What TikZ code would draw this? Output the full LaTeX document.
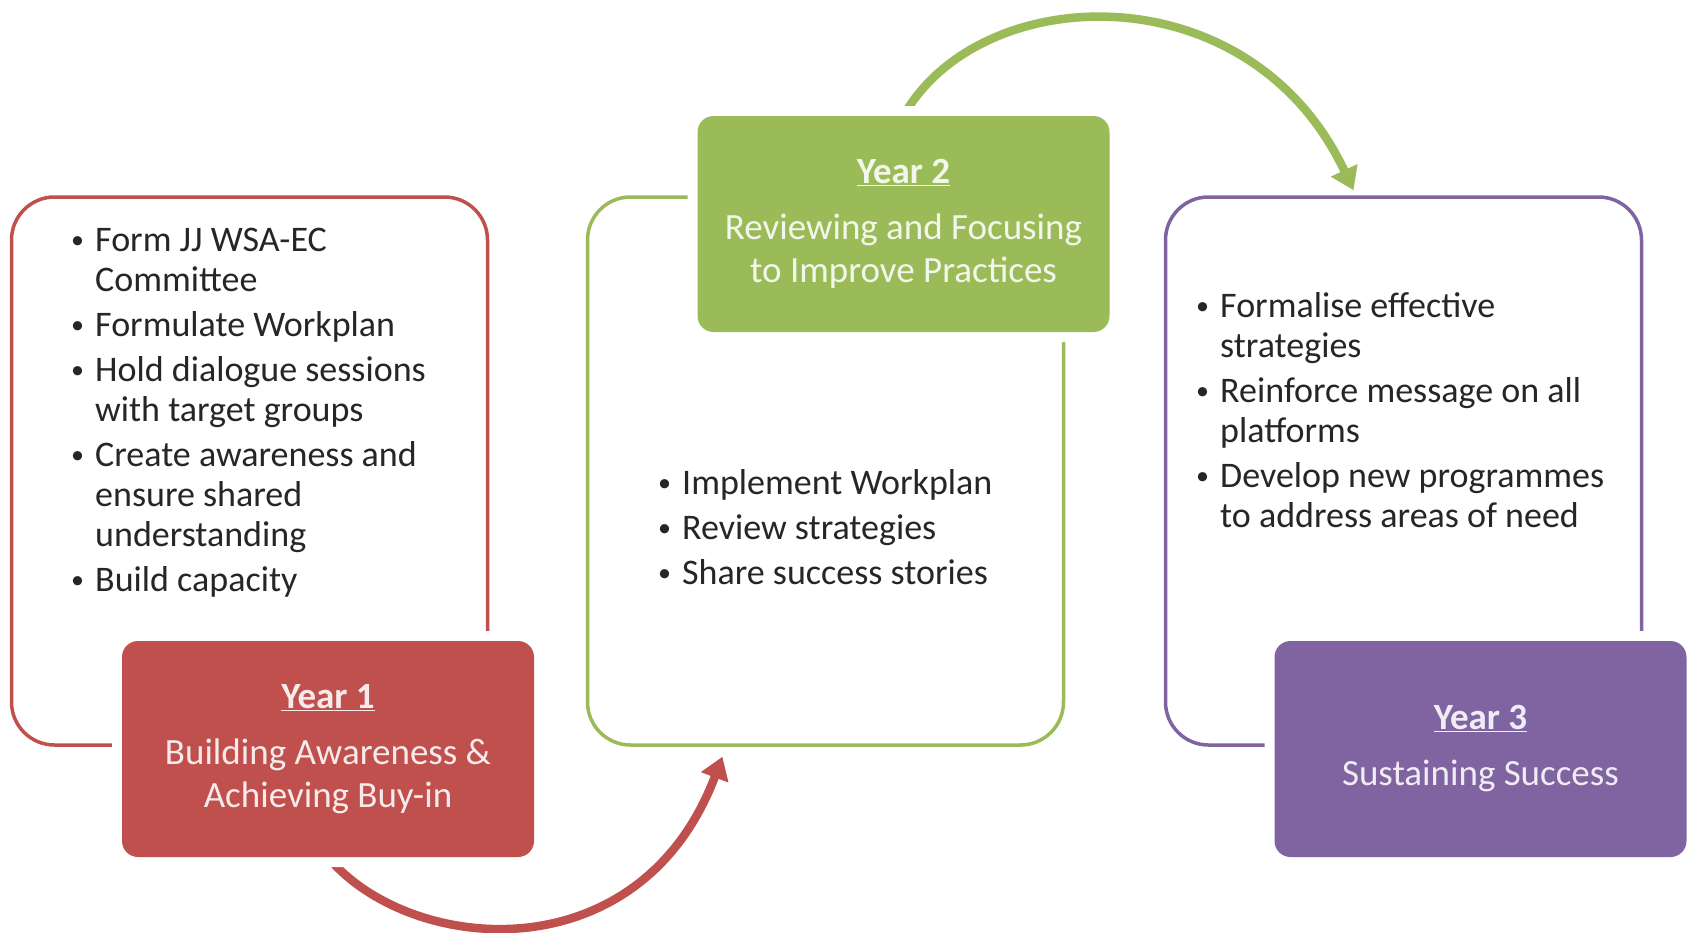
\documentclass[tikz,border=0pt]{standalone}
\usepackage{fontspec}
\setmainfont{Carlito}
\usetikzlibrary{arrows.meta,calc,backgrounds}
\definecolor{cred}{HTML}{C0504D}
\definecolor{cgreen}{HTML}{9BBB59}
\definecolor{cpurple}{HTML}{8064A2}
\definecolor{ctext}{HTML}{262626}
\newcommand{\bul}{\makebox[24pt][l]{\raisebox{2.5pt}{\fontsize{26}{26}\selectfont\textbullet}}}
\newcommand{\cont}{\hspace*{24pt}}
\begin{document}
\begin{tikzpicture}[x=1pt,y=-1pt,
  outline/.style={draw=#1, line width=3.5pt, rounded corners=43pt, minimum width=476pt, minimum height=548pt, inner sep=0pt},
  yearbox/.style={fill=#1, rounded corners=16pt, minimum width=412pt, minimum height=216pt,
    preaction={draw=white, line width=20pt}, text=white!88!#1, align=center,
    font=\fontsize{37}{43}\selectfont, inner sep=0pt},
  list/.style={anchor=base west, inner sep=0pt, text=ctext, font=\fontsize{36}{40}\selectfont},
  flow/.style={draw=#1, line width=8.5pt, -{Triangle[length=22pt,width=28pt]}},
]
\useasboundingbox (0,0) rectangle (1692,932);

% outline boxes
\node[outline=cred]    (r-out) at (249.5,471) {};
\node[outline=cgreen]  (g-out) at (825.5,471) {};
\node[outline=cpurple] (p-out) at (1403.5,471) {};

% year boxes
\node[yearbox=cred] (r-box) at (328,749)
  {\underline{\textbf{Year 1}}\\[13pt]Building Awareness \&\\Achieving Buy-in};
\node[yearbox=cgreen] (g-box) at (903.5,224)
  {\underline{\textbf{Year 2}}\\[13pt]Reviewing and Focusing\\to Improve Practices};
\node[yearbox=cpurple] (p-box) at (1480.5,749)
  {\underline{\textbf{Year 3}}\\[13pt]Sustaining Success};

% bullet lists
\node[list] (r-list) at (71,251) {\begin{tabular}[t]{@{}l@{}}
\bul Form JJ WSA-EC\\
\cont Committee\\[5pt]
\bul Formulate Workplan\\[5pt]
\bul Hold dialogue sessions\\
\cont with target groups\\[5pt]
\bul Create awareness and\\
\cont ensure shared\\
\cont understanding\\[5pt]
\bul Build capacity
\end{tabular}};
\node[list] (g-list) at (658,494) {\begin{tabular}[t]{@{}l@{}}
\bul Implement Workplan\\[5pt]
\bul Review strategies\\[5pt]
\bul Share success stories
\end{tabular}};
\node[list] (p-list) at (1196,317) {\begin{tabular}[t]{@{}l@{}}
\bul Formalise effective\\
\cont strategies\\[5pt]
\bul Reinforce message on all\\
\cont platforms\\[5pt]
\bul Develop new programmes\\
\cont to address areas of need
\end{tabular}};

\coordinate (t12) at ($(g-out.south west)!0.285!(g-out.south east)+(0,10)$);
\coordinate (t23) at ($(p-out.north)+(-50,-5)$);

\begin{scope}[on background layer]
\fill[white] (0,0) rectangle (1692,932);
\draw[flow=cred] (r-box.south) .. controls (410,955) and (640,975) .. (t12);
\draw[flow=cgreen] (g-box.north) .. controls (980,-20) and (1250,-30) .. (t23);
\end{scope}
\end{tikzpicture}
\end{document}
